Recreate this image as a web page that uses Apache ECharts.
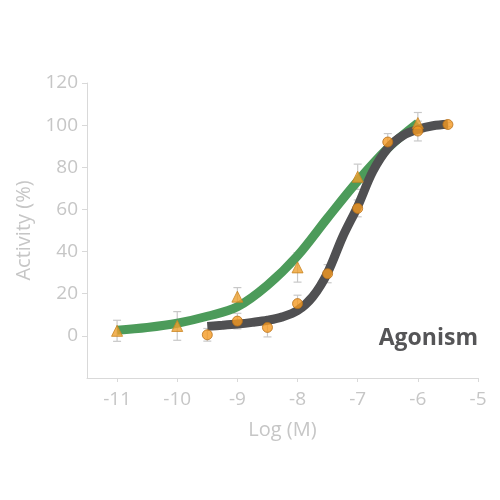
<!DOCTYPE html>
<html>
<head>
<meta charset="utf-8">
<script src="https://cdn.jsdelivr.net/npm/echarts@6/dist/echarts.min.js"></script>
<style>html,body{margin:0;padding:0;background:#fff}#c{width:500px;height:500px}</style>
</head>
<body>
<div id="c"></div>
<script>
// Data points
const greenX = [-11, -10, -9, -8, -7, -6];
const greenY = [2.4, 4.7, 18.6, 32.5, 75.5, 101];
const greenErr = [5, 6.8, 4.3, 7, 6, 5];

const greyX = [-9.5, -9, -8.5, -8, -7.5, -7, -6.5, -6, -5.5];
const greyY = [0.5, 7, 4, 15.3, 29.5, 60.5, 92, 97.2, 100.3];
const greyErr = [3, 3.7, 4.5, 4, 4.3, 4, 4, 4.7, 1];

// Fitted curves
const greenCurveX = [-11, -10.5, -10, -9.5, -9, -8.5, -8, -7.5, -7, -6.5, -6];
const greenCurveY = [2.7, 4, 6, 9.3, 13.8, 24, 38, 56, 73.5, 89, 101];
const greyCurveX = [-9.5, -9.25, -9, -8.75, -8.5, -8.25, -8, -7.75, -7.5, -7.25, -7, -6.75, -6.5, -6.25, -6, -5.75, -5.5];
const greyCurveY = [4.5, 5, 5.6, 6.4, 7.4, 9, 12, 18.5, 30, 47, 61.5, 78, 89, 95, 98, 99.7, 100.4];

const xTicks = [-11, -10, -9, -8, -7, -6, -5];
const yTicks = [0, 20, 40, 60, 80, 100, 120];

const FONT = 'Open Sans';
const labelColor = '#c6c6c6';
const lineColor = '#d9d9d9';

function zip(a, b) { return a.map((v, i) => [v, b[i]]); }
function errData(xs, ys, es) { return xs.map((v, i) => [v, ys[i] - es[i], ys[i] + es[i]]); }

function errRender(params, api) {
  const x = api.value(0);
  const lo = api.coord([x, api.value(1)]);
  const hi = api.coord([x, api.value(2)]);
  const w = 4;
  const style = { stroke: '#c8c8c8', lineWidth: 1.2 };
  return {
    type: 'group',
    children: [
      { type: 'line', shape: { x1: lo[0], y1: lo[1], x2: hi[0], y2: hi[1] }, style },
      { type: 'line', shape: { x1: lo[0] - w, y1: lo[1], x2: lo[0] + w, y2: lo[1] }, style },
      { type: 'line', shape: { x1: hi[0] - w, y1: hi[1], x2: hi[0] + w, y2: hi[1] }, style }
    ]
  };
}

const chart = echarts.init(document.getElementById('c'), null, { renderer: 'canvas' });
chart.setOption({
  animation: false,
  backgroundColor: '#ffffff',
  grid: { left: 87, right: 22, top: 83, bottom: 122, containLabel: false },
  xAxis: {
    type: 'value', min: -11.5, max: -5,
    name: 'Log (M)', nameLocation: 'middle', nameGap: 42,
    nameTextStyle: { color: labelColor, fontSize: 20, fontFamily: FONT },
    axisLine: { show: true, onZero: false, lineStyle: { color: lineColor, width: 1 } },
    axisTick: { show: true, length: 4, customValues: xTicks, lineStyle: { color: lineColor } },
    axisLabel: { customValues: xTicks, color: labelColor, fontSize: 19, fontFamily: FONT, margin: 12 },
    splitLine: { show: false }
  },
  yAxis: {
    type: 'value', min: -20, max: 120,
    name: 'Activity (%)', nameLocation: 'middle', nameGap: 50,
    nameTextStyle: { color: labelColor, fontSize: 20, fontFamily: FONT },
    axisLine: { show: true, onZero: false, lineStyle: { color: lineColor, width: 1 } },
    axisTick: { show: true, length: 5, customValues: yTicks, lineStyle: { color: lineColor } },
    axisLabel: { customValues: yTicks, color: labelColor, fontSize: 19, fontFamily: FONT, margin: 9 },
    splitLine: { show: false }
  },
  series: [
    { type: 'custom', renderItem: errRender, data: errData(greenX, greenY, greenErr), z: 1, encode: { x: 0, y: [1, 2] } },
    { type: 'custom', renderItem: errRender, data: errData(greyX, greyY, greyErr), z: 1, encode: { x: 0, y: [1, 2] } },
    { type: 'line', data: zip(greenCurveX, greenCurveY), smooth: 0.35, showSymbol: false, z: 2,
      lineStyle: { color: '#4c9b5a', width: 9, cap: 'butt' } },
    { type: 'line', data: zip(greyCurveX, greyCurveY), smooth: 0.35, showSymbol: false, z: 3,
      lineStyle: { color: '#505052', width: 9, cap: 'butt' } },
    { type: 'scatter', data: zip(greenX, greenY), symbol: 'triangle', symbolSize: 11, z: 5,
      itemStyle: { color: '#eda02e', borderColor: '#c98420', borderWidth: 1 } },
    { type: 'scatter', data: zip(greyX, greyY), symbol: 'circle', symbolSize: 10, z: 6,
      itemStyle: { color: '#f59a22', borderColor: '#b8701a', borderWidth: 1 } }
  ],
  graphic: [
    { type: 'text', right: 22, top: 327, z: 10,
      style: { text: 'Agonism', fill: '#555557', font: 'bold 23px "Open Sans"' } }
  ]
});
</script>
</body>
</html>
